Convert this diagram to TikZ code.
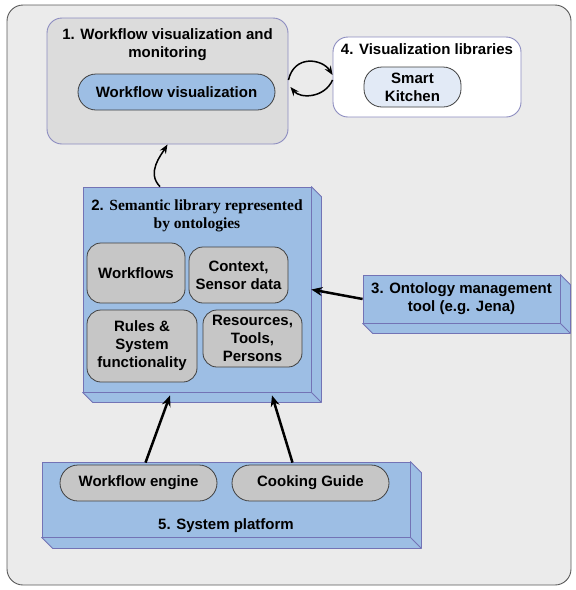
\documentclass[tikz,border=0pt]{standalone}
\usepackage{fontspec}
\setmainfont{Liberation Sans}
\newfontfamily\serifbf{Liberation Serif}
\usetikzlibrary{arrows.meta,calc}
\pgfdeclarelayer{bg}
\pgfdeclarelayer{mid}
\pgfsetlayers{bg,mid,main}
\definecolor{outerfill}{HTML}{EBEBEB}
\definecolor{outerline}{HTML}{5A5A5A}
\definecolor{boxgray}{HTML}{DCDCDC}
\definecolor{purpleline}{HTML}{8C8CC0}
\definecolor{blue3d}{HTML}{9DBEE4}
\definecolor{blueline}{HTML}{7373B5}
\definecolor{pillgray}{HTML}{C6C6C6}
\definecolor{pilledge}{HTML}{404040}
\definecolor{lightblue}{HTML}{E2EAF6}
\newcommand\extrude[2]{%
  \begin{pgfonlayer}{mid}
  \filldraw[fill=blue3d,draw=blueline,line width=0.8pt,line join=round]
    (#1.north east) -- ++(#2,#2) -- ($(#1.south east)+(#2,#2)$)
    -- ($(#1.south west)+(#2,#2)$) -- (#1.south west) -- (#1.south east) -- cycle;
  \draw[blueline,line width=0.8pt] (#1.south east) -- ++(#2,#2);
  \end{pgfonlayer}}
\tikzset{
  every node/.style={font=\fontsize{15}{18}\selectfont\bfseries, align=center, inner sep=0pt},
  groupbox/.style={draw=purpleline, line width=0.9pt, rounded corners=15pt},
  frontbox/.style={draw=blueline, fill=blue3d, line width=0.8pt},
  pill/.style={draw=pilledge, fill=pillgray, line width=0.8pt},
  thickarrow/.style={line width=2.5pt, -{Stealth[length=11pt,width=9pt]}},
  thinarrow/.style={line width=1.5pt, -{Stealth[length=9pt,width=7pt]}},
}
\begin{document}
\begin{tikzpicture}[x=1pt,y=-1pt]
\useasboundingbox (0,0) rectangle (576,590);
% outer background
\begin{pgfonlayer}{bg}
\filldraw[fill=outerfill,draw=outerline,line width=0.9pt,rounded corners=16pt] (7,5) rectangle (571,585);
\end{pgfonlayer}
% box 1
\node[groupbox, fill=boxgray, minimum width=241pt, minimum height=126pt] (b1) at (167.5,81) {};
\node (t1) at (167.5,45) {1. Workflow visualization and\\monitoring};
\node[draw=pilledge, fill=blue3d, line width=0.8pt, rounded corners=18pt, minimum width=197pt, minimum height=36pt] (wv) at (176.5,92) {Workflow visualization};
% box 4
\node[groupbox, fill=white, minimum width=188pt, minimum height=80pt] (b4) at (427,77) {};
\node (t4) at (427,49) {4. Visualization libraries};
\node[draw=pilledge, fill=lightblue, line width=0.8pt, rounded corners=18pt, minimum width=97pt, minimum height=40pt] (sk) at (412.5,87) {Smart\\Kitchen};
% box 2
\node[frontbox, minimum width=228pt, minimum height=205pt] (b2) at (197,289.5) {};
\extrude{b2}{10}
\node (t2) at (197,216) {2. {\serifbf\bfseries\fontsize{15.5}{18}\selectfont Semantic library represented}\\{\serifbf\bfseries\fontsize{15.5}{18}\selectfont by ontologies}};
\node[pill, rounded corners=14pt, minimum width=98pt, minimum height=60pt] (wf) at (136,273) {Workflows};
\node[pill, rounded corners=14pt, minimum width=99pt, minimum height=56pt] (ctx) at (238.5,275) {Context,\\Sensor data};
\node[pill, rounded corners=14pt, minimum width=110pt, minimum height=72pt] (rules) at (142,346) {Rules \&\\System\\functionality};
\node[pill, rounded corners=14pt, minimum width=99pt, minimum height=57pt] (res) at (252.5,338.5) {Resources,\\Tools,\\Persons};
% box 3
\node[frontbox, minimum width=197pt, minimum height=48pt] (b3) at (461.5,299) {3. Ontology management\\tool (e.g. Jena)};
\extrude{b3}{10}
% box 5
\node[frontbox, minimum width=368pt, minimum height=75pt] (b5) at (226,499.5) {};
\extrude{b5}{11}
\node (t5) at (226,526) {5. System platform};
\node[pill, rounded corners=18pt, minimum width=157pt, minimum height=36pt] (we) at (138.5,483) {Workflow engine};
\node[pill, rounded corners=18pt, minimum width=157pt, minimum height=36pt] (cg) at (310.5,483) {Cooking Guide};
% connectors
\draw[thinarrow] ([xshift=-37pt]b2.north) .. controls +(-14,-14) and +(-6,10) .. (b1.south);
\draw[thinarrow] ([yshift=1pt]b1.east) .. controls +(6,-26) and +(-10,-16) .. ([yshift=2pt]b4.west);
\draw[thinarrow] ([yshift=-3pt]b4.west) .. controls +(-8,18) and +(10,12) .. ([xshift=2pt,yshift=-6pt]b1.east);
\draw[thickarrow] (b3.west) -- (b2.east);
\draw[thickarrow] ([xshift=7pt,yshift=2pt]we.north) -- ([xshift=-27pt,yshift=-3pt]b2.south);
\draw[thickarrow] ([xshift=-18pt,yshift=2pt]cg.north) -- ([xshift=75pt,yshift=-3pt]b2.south);
\end{tikzpicture}
\end{document}
